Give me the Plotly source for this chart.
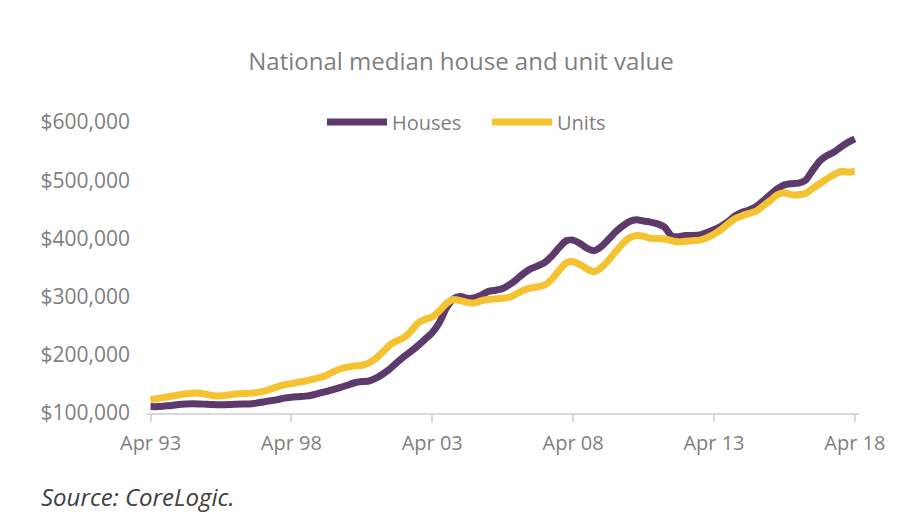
import plotly.graph_objects as go
import pandas as pd

# Quarterly dates, Apr 1993 - Apr 2018
dates = pd.date_range("1993-04-01", "2018-04-01", freq="QS")

# National median values, $ thousands
houses_k = [
    111, 111, 112, 113,
    114.5, 115.5, 116, 115.5,
    115, 114.5, 114, 114.5,
    115, 115.5, 115.5, 117,
    119, 121, 123, 125.5,
    127, 128, 129, 131,
    134, 137, 140.5, 144,
    148, 152, 154, 155,
    160, 167, 176, 187,
    197, 206, 216, 227,
    238, 255, 280, 296,
    300, 297, 298, 303,
    309, 311, 314, 321,
    330, 340, 348, 353,
    359, 370, 384, 396,
    397, 391, 383, 379,
    386, 398, 411, 421,
    429, 432, 430, 428,
    425, 419, 404, 403,
    405, 405, 406, 410,
    415, 421, 429, 439,
    445, 449, 455, 465,
    475, 485, 492, 494,
    495, 500, 517, 533,
    542, 548, 557, 565,
    571,
]
units_k = [
    123, 125, 127, 129,
    131, 133, 134, 134,
    132, 129.5, 129.5, 131,
    132.5, 133.5, 134, 135,
    137, 141, 145, 148.5,
    150.5, 153, 155, 158,
    161, 165, 171, 176,
    179, 181, 182, 186,
    194, 205, 217, 224,
    230, 241, 255, 261,
    265, 275, 288, 295,
    293, 290, 289, 293,
    295, 296, 297, 299,
    305, 311, 315, 317,
    320, 330, 345, 358,
    360, 355, 347, 343,
    350, 362, 377, 391,
    401, 405, 404, 400,
    400, 399, 396, 394,
    395, 396, 397, 401,
    407, 415, 425, 434,
    439, 443, 447, 456,
    465, 475, 478, 475,
    475, 477, 486, 494,
    502, 509, 515, 514,
    515,
]

houses = [v * 1000 for v in houses_k]
units = [v * 1000 for v in units_k]

x_ticks = pd.to_datetime(["1993-04-01", "1998-04-01", "2003-04-01", "2008-04-01", "2013-04-01", "2018-04-01"])
x_labels = ["Apr 93", "Apr 98", "Apr 03", "Apr 08", "Apr 13", "Apr 18"]
y_ticks = [100000, 200000, 300000, 400000, 500000, 600000]

grey = "#7f7f7f"
font = "Open Sans"

fig = go.Figure()
fig.add_trace(go.Scatter(x=dates, y=houses, name="Houses", mode="lines",
                         line=dict(color="#5c3a6b", width=7, shape="spline", smoothing=0.6)))
fig.add_trace(go.Scatter(x=dates, y=units, name="Units", mode="lines",
                         line=dict(color="#f5c231", width=7, shape="spline", smoothing=0.6)))

fig.update_layout(
    width=906, height=518,
    plot_bgcolor="white", paper_bgcolor="white",
    margin=dict(l=139, r=55, t=114, b=113),
    title=dict(text="National median house and unit value", x=0.5, xanchor="center",
               y=0.896, yanchor="middle", font=dict(family=font, size=24, color=grey)),
    legend=dict(orientation="h", x=0.2458, xanchor="left", y=1.0, yanchor="middle",
                font=dict(family=font, size=20, color=grey), bgcolor="rgba(0,0,0,0)",
                itemwidth=60, entrywidth=90, entrywidthmode="pixels", traceorder="normal"),
    xaxis=dict(range=["1993-02-14", "2018-05-25"], tickvals=x_ticks, ticktext=x_labels,
               showgrid=False, zeroline=False, showline=True, linecolor="#d9d9d9", linewidth=2,
               ticks="outside", ticklen=7, tickcolor="#d9d9d9", tickwidth=2,
               ticklabelstandoff=4,
               tickfont=dict(family=font, size=20, color=grey)),
    yaxis=dict(range=[100000, 600000], tickvals=y_ticks, tickformat="$,.0f",
               showgrid=False, zeroline=False, showline=False, ticks="",
               ticklabelstandoff=16,
               tickfont=dict(family=font, size=21, color=grey)),
    annotations=[dict(text="<i>Source: CoreLogic.</i>", xref="paper", yref="paper",
                      x=(31 - 139) / 712, y=(405 - 489) / 291, xanchor="left", yanchor="middle",
                      showarrow=False, font=dict(family=font, size=24, color="#404040"))],
)

fig.write_html("out.html")
